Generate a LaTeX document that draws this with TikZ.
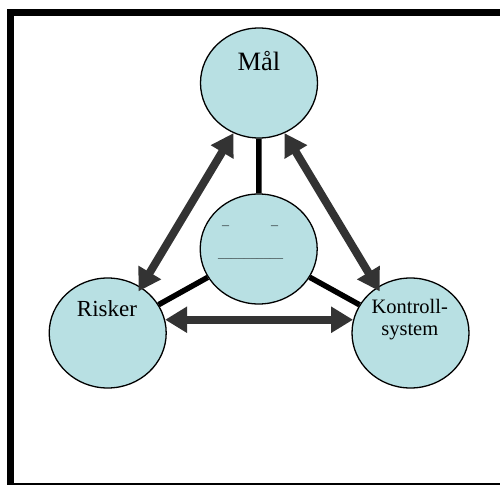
\documentclass[tikz,border=0pt]{standalone}
\usepackage{fontspec}
\setmainfont{Liberation Serif}
\usetikzlibrary{arrows.meta,calc,shapes.geometric}
\definecolor{bubble}{RGB}{184,224,227}
\definecolor{arrowgray}{RGB}{51,51,51}
\definecolor{faint}{RGB}{50,60,62}
\tikzset{
  bubblenode/.style={ellipse, draw=black, line width=1.3pt, fill=bubble,
    minimum width=117pt, minimum height=110pt, inner sep=0pt},
  link/.style={draw=black, line width=5.5pt},
  twoway/.style={draw=arrowgray, line width=8pt,
    {Triangle[length=22pt,width=25pt,fill=arrowgray]}-{Triangle[length=22pt,width=25pt,fill=arrowgray]}},
  lbl/.style={anchor=base, inner sep=0pt, text=black}
}
\begin{document}
\begin{tikzpicture}[x=1pt,y=-1pt]
  \useasboundingbox (0,0) rectangle (500,484);
  \clip (0,0) rectangle (500,484);
  % outer frame, partly running off the page on the right and bottom
  \draw[line width=6.6pt] (10.7,12.6) rectangle (504,486.5);

  % the four bubbles
  \node[bubblenode] (mal)  at (259,83)    {};
  \node[bubblenode] (ctr)  at (258.7,249) {};
  \node[bubblenode] (risk) at (107.7,333) {};
  \node[bubblenode] (kon)  at (410.5,333) {};

  % plain links from the centre bubble
  \draw[link] (mal) -- (ctr);
  \draw[link] (ctr) -- (risk);
  \draw[link] (ctr) -- (kon);

  % two-way arrows around the triangle
  \draw[twoway, shorten >=-5pt] (mal.243) -- (risk.54);
  \draw[twoway, shorten >=-5pt] (mal.297) -- (kon.126);
  \draw[twoway] (risk.13) -- (kon.167);

  % labels
  \node[lbl, font=\fontsize{26.5}{30}\selectfont] (tmal) at (259,71) {Mål};
  \node[lbl, font=\fontsize{23}{26}\selectfont] (trisk) at (107,316) {Risker};
  \node[lbl, font=\fontsize{20.5}{21.7}\selectfont] (tkon1) at (409.8,313.3) {Kontroll-};
  \node[lbl, font=\fontsize{20.5}{21.7}\selectfont] (tkon2) at (409.8,335) {system};
  \node[lbl, font=\fontsize{14}{15}\selectfont, text=faint] (tdash) at (250,229.5) {–\hspace{42pt}–};
  \node[lbl, font=\fontsize{13}{15}\selectfont, text=faint] (tline) at (250.5,257) {\_\_\_\_\_\_\_\_\_\_};
\end{tikzpicture}
\end{document}
